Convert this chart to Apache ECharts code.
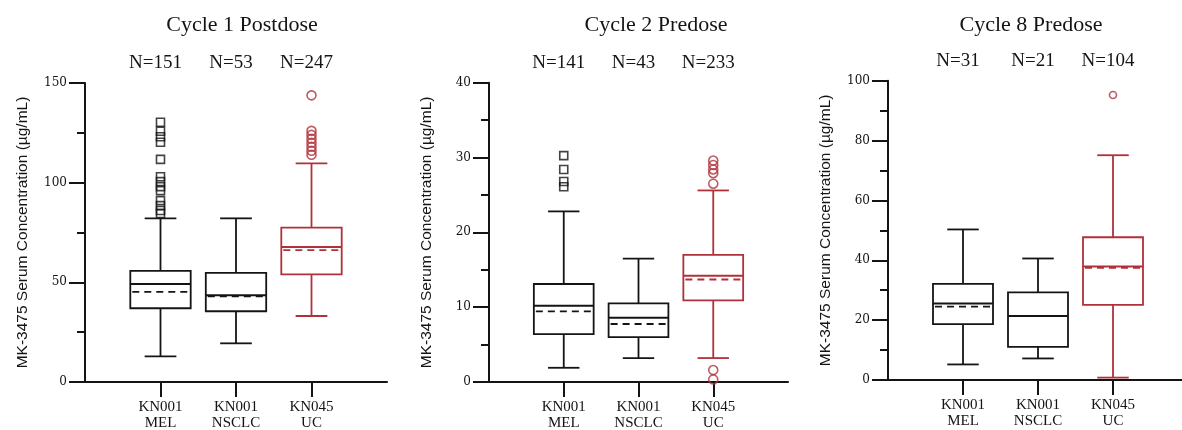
<!DOCTYPE html>
<html>
<head>
<meta charset="utf-8">
<script src="https://cdn.jsdelivr.net/npm/echarts@6/dist/echarts.min.js"></script>
<style>
  html, body { margin: 0; padding: 0; background: #fff; }
  #chart { width: 1182px; height: 430px; }
</style>
</head>
<body>
<div id="chart"></div>
<script>
// Study groups shown along each x axis
const categories = ['KN001\nMEL', 'KN001\nNSCLC', 'KN045\nUC'];

// Panel titles and subject counts per group
const panelTitles = ['Cycle 1 Postdose', 'Cycle 2 Predose', 'Cycle 8 Predose'];
const cycle1Counts = [151, 53, 247];
const cycle2Counts = [141, 43, 233];
const cycle8Counts = [31, 21, 104];

// Box statistics per group: [lower whisker, Q1, median, Q3, upper whisker, mean]
const cycle1Stats = [
  [12.9, 37.0, 49.2, 55.7, 82.1, 45.2],
  [19.4, 35.5, 43.5, 54.7, 82.1, 43.0],
  [33.1, 54.0, 67.7, 77.4, 109.7, 66.2]
];
const cycle2Stats = [
  [1.9, 6.4, 10.2, 13.1, 22.8, 9.45],
  [3.2, 6.0, 8.6, 10.5, 16.5, 7.75],
  [3.2, 10.9, 14.2, 17.0, 25.6, 13.7]
];
const cycle8Stats = [
  [5.2, 18.7, 25.6, 32.1, 50.3, 24.5],
  [7.2, 11.1, 21.4, 29.3, 40.6, 21.4],
  [0.8, 25.1, 37.9, 47.7, 75.1, 37.5]
];

// Outlying observations per group (KN001 NSCLC has none)
const cycle1MelOutliers = [130.3, 125.8, 123.0, 120.3, 111.7, 103.0, 100.5, 98.0, 96.0, 91.0, 88.5, 86.0, 84.5];
const cycle1UcOutliers = [143.8, 126.0, 124.0, 122.0, 120.0, 118.0, 116.0, 114.0];
const cycle2MelOutliers = [30.25, 28.4, 26.8, 26.1];
const cycle2UcOutliers = [29.6, 29.0, 28.4, 27.9, 26.5, 1.6, 0.35];
const cycle8MelOutliers = [];
const cycle8UcOutliers = [95.2];

// Y-axis scales per panel
const yMax = [150, 40, 100];
const yStep = [50, 10, 20];

const INK = '#141414';
const RED = '#b0313a';
const groupColors = [INK, INK, RED];
const SERIF = '"Liberation Serif", "Times New Roman", serif';

// Category slots: an empty slot on each side leaves room at the axis ends
const axisSlots = ['', ...categories, ''];

const grids = [
  { left: 85, top: 83, width: 302, height: 299 },
  { left: 489, top: 82.7, width: 299, height: 299.3 },
  { left: 888, top: 80.7, width: 300, height: 299.3 }
];
const titleCenters = [242, 656, 1031];
const statsByPanel = [cycle1Stats, cycle2Stats, cycle8Stats];
const countsByPanel = [cycle1Counts, cycle2Counts, cycle8Counts];
const melOutliers = [cycle1MelOutliers, cycle2MelOutliers, cycle8MelOutliers];
const ucOutliers = [cycle1UcOutliers, cycle2UcOutliers, cycle8UcOutliers];
const ucSymbolSize = [9, 9, 7];

function renderBox(params, api) {
  const x = api.value(0);
  const lo = api.coord([x, api.value(1)]);
  const q1 = api.coord([x, api.value(2)]);
  const md = api.coord([x, api.value(3)]);
  const q3 = api.coord([x, api.value(4)]);
  const hi = api.coord([x, api.value(5)]);
  const mn = api.coord([x, api.value(6)]);
  const unit = Math.abs(api.coord([2, 0])[0] - api.coord([1, 0])[0]);
  const bw = unit * 0.4;
  const cw = unit * 0.21;
  const cx = lo[0];
  const color = groupColors[params.dataIndex];
  const st = { stroke: color, lineWidth: 1.8, fill: null };
  const line = (x1, y1, x2, y2, extra) => ({
    type: 'line',
    shape: { x1, y1, x2, y2 },
    style: Object.assign({}, st, extra || {})
  });
  return {
    type: 'group',
    children: [
      line(cx, hi[1], cx, q3[1]),
      line(cx, q1[1], cx, lo[1]),
      line(cx - cw, hi[1], cx + cw, hi[1]),
      line(cx - cw, lo[1], cx + cw, lo[1]),
      {
        type: 'rect',
        shape: { x: cx - bw, y: q3[1], width: 2 * bw, height: q1[1] - q3[1] },
        style: { stroke: color, lineWidth: 1.8, fill: 'rgba(0,0,0,0)' }
      },
      line(cx - bw, md[1], cx + bw, md[1], { lineWidth: 2 }),
      line(cx - bw + 2, mn[1], cx + bw - 2, mn[1], { lineDash: [7, 5], lineWidth: 1.8 })
    ]
  };
}

const xAxes = [];
const yAxes = [];
const series = [];

grids.forEach((g, p) => {
  xAxes.push({
    type: 'category',
    gridIndex: p,
    data: axisSlots,
    boundaryGap: false,
    axisLine: { onZero: false, lineStyle: { color: INK, width: 2 } },
    axisTick: {
      length: 15,
      interval: (i) => i > 0 && i < axisSlots.length - 1,
      lineStyle: { color: INK, width: 2 }
    },
    axisLabel: {
      interval: 0,
      margin: 17,
      color: INK,
      fontFamily: SERIF,
      fontSize: 15,
      lineHeight: 16
    },
    splitLine: { show: false }
  });
  // Subject counts printed above each group
  xAxes.push({
    type: 'category',
    gridIndex: p,
    position: 'top',
    data: ['', ...countsByPanel[p].map((n) => 'N=' + n), ''],
    boundaryGap: false,
    axisLine: { show: false },
    axisTick: { show: false },
    axisLabel: {
      interval: 0,
      margin: 10,
      color: INK,
      fontFamily: SERIF,
      fontSize: 19,
      padding: [0, 10, 0, 0]
    },
    splitLine: { show: false }
  });
  yAxes.push({
    type: 'value',
    gridIndex: p,
    min: 0,
    max: yMax[p],
    interval: yStep[p],
    name: 'MK-3475 Serum Concentration (µg/mL)',
    nameLocation: 'middle',
    nameGap: 54,
    nameTextStyle: {
      color: INK,
      fontFamily: '"Liberation Sans", Arial, sans-serif',
      fontSize: 15.5
    },
    axisLine: { show: true, onZero: false, lineStyle: { color: INK, width: 2 } },
    axisTick: { show: true, length: 16, lineStyle: { color: INK, width: 2 } },
    minorTick: { show: true, splitNumber: 2, length: 8, lineStyle: { color: INK, width: 2 } },
    axisLabel: {
      margin: 18,
      color: INK,
      fontFamily: '"DejaVu Serif", serif',
      fontSize: 12
    },
    splitLine: { show: false },
    minorSplitLine: { show: false }
  });

  series.push({
    type: 'custom',
    xAxisIndex: 2 * p,
    yAxisIndex: p,
    renderItem: renderBox,
    clip: false,
    encode: { x: 0, y: [1, 2, 3, 4, 5, 6] },
    data: statsByPanel[p].map((s, i) => [i + 1, ...s]),
    z: 2
  });
  series.push({
    type: 'scatter',
    xAxisIndex: 2 * p,
    yAxisIndex: p,
    symbol: 'rect',
    symbolSize: 8,
    itemStyle: { color: 'rgba(0,0,0,0)', borderColor: INK, borderWidth: 1.6 },
    data: melOutliers[p].map((v) => [1, v]),
    z: 3
  });
  series.push({
    type: 'scatter',
    xAxisIndex: 2 * p,
    yAxisIndex: p,
    symbol: 'circle',
    symbolSize: ucSymbolSize[p],
    itemStyle: { color: 'rgba(0,0,0,0)', borderColor: RED, borderWidth: 1.6 },
    data: ucOutliers[p].map((v) => [3, v]),
    z: 3
  });
});

const chart = echarts.init(document.getElementById('chart'), null, { renderer: 'canvas' });
chart.setOption({
  animation: false,
  backgroundColor: '#ffffff',
  title: panelTitles.map((t, p) => ({
    text: t,
    left: titleCenters[p],
    top: 14,
    padding: 0,
    textAlign: 'center',
    textStyle: { color: INK, fontFamily: SERIF, fontSize: 22, fontWeight: 'normal' }
  })),
  grid: grids.map((g) => Object.assign({ outerBoundsMode: 'none', containLabel: false }, g)),
  xAxis: xAxes,
  yAxis: yAxes,
  series: series
});
</script>
</body>
</html>
